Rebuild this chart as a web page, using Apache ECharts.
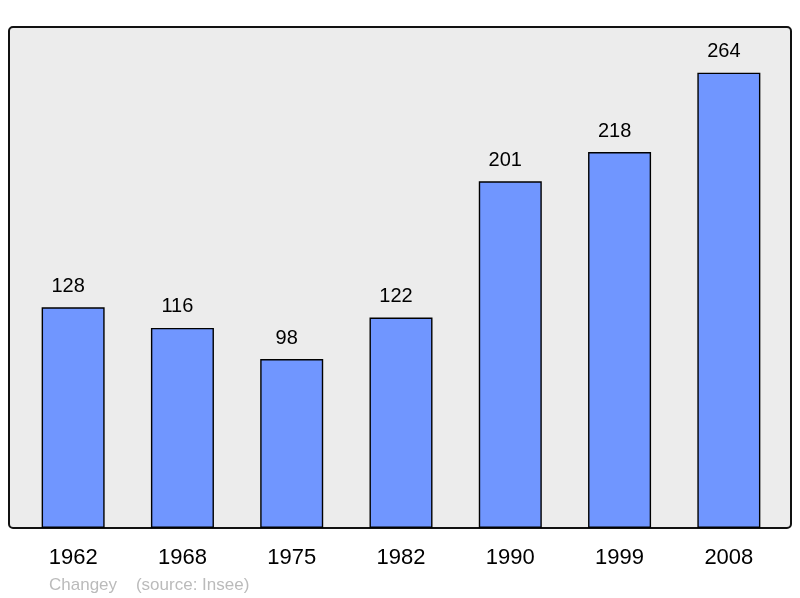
<!DOCTYPE html>
<html>
<head>
<meta charset="utf-8">
<script src="https://cdn.jsdelivr.net/npm/echarts@6/dist/echarts.min.js"></script>
<style>
  html, body { margin: 0; padding: 0; background: #fff; }
  #chart { width: 800px; height: 598px; }
</style>
</head>
<body>
<div id="chart"></div>
<script>
const years = ['1962', '1968', '1975', '1982', '1990', '1999', '2008'];
const population = [128, 116, 98, 122, 201, 218, 264];

const chart = echarts.init(document.getElementById('chart'), null, {renderer: 'canvas'});

const option = {
  animation: false,
  backgroundColor: '#fff',
  textStyle: {fontFamily: 'Liberation Sans, Arial, sans-serif'},
  graphic: [
    {
      // grey framed plot box
      type: 'rect',
      z: -10,
      shape: {x: 9, y: 27, width: 782, height: 501, r: 4},
      style: {fill: '#ececec', stroke: '#111', lineWidth: 2}
    },
    {
      type: 'text',
      left: 49,
      top: 577,
      style: {
        text: 'Changey    (source: Insee)',
        fill: '#bbbbbb',
        fontSize: 17,
        fontFamily: 'Liberation Sans, Arial, sans-serif'
      }
    }
  ],
  grid: {left: 18.5, right: 16.5, top: 27, bottom: 70, containLabel: false},
  xAxis: {
    type: 'category',
    data: years,
    axisLine: {show: false},
    axisTick: {show: false},
    axisLabel: {color: '#000', fontSize: 22, margin: 19}
  },
  yAxis: {
    type: 'value',
    min: 0,
    max: 290.5,
    show: false,
    splitLine: {show: false}
  },
  series: [{
    type: 'bar',
    data: population,
    barWidth: 63,
    itemStyle: {color: '#7096ff', borderColor: '#000', borderWidth: 1.4},
    label: {
      show: true,
      position: 'top',
      distance: 11,
      offset: [-5, 0],
      color: '#000',
      fontSize: 20
    }
  }]
};

chart.setOption(option);
</script>
</body>
</html>
